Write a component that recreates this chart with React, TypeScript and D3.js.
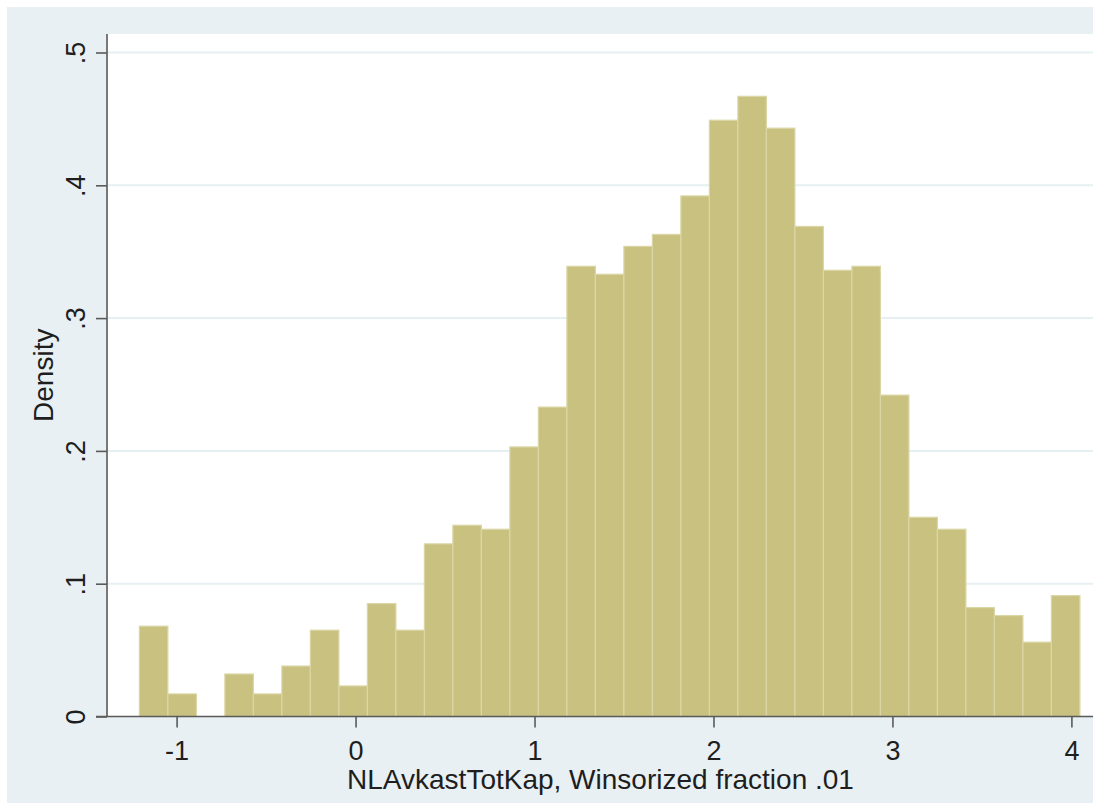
import React, { useEffect, useRef } from 'react';
import * as d3 from 'd3';

// histogram bins (start, width) and densities
const binStart = -1.208;
const binWidth = 0.15926;
const densities = [
  0.068, 0.017, 0, 0.032, 0.017, 0.038, 0.065, 0.023, 0.085, 0.065,
  0.130, 0.144, 0.141, 0.203, 0.233, 0.339, 0.333, 0.354, 0.363, 0.392,
  0.449, 0.467, 0.443, 0.369, 0.336, 0.339, 0.242, 0.150, 0.141, 0.082,
  0.076, 0.056, 0.091
];
const xTicks = [-1, 0, 1, 2, 3, 4];
const yTicks = [0, 0.1, 0.2, 0.3, 0.4, 0.5];
const xTitle = 'NLAvkastTotKap, Winsorized fraction .01';
const yTitle = 'Density';

export default function App() {
  const svgRef = useRef<SVGSVGElement | null>(null);

  useEffect(() => {
    const W = 1093;
    const H = 803;
    const plot = { left: 108, top: 34, right: 1093, bottom: 716.5 };
    const font = 'Liberation Sans, Arial, sans-serif';

    d3.select(svgRef.current).selectAll('*').remove();
    const svg = d3.select(svgRef.current).attr('width', W).attr('height', H);

    // outer graph region
    svg.append('rect')
      .attr('x', 7).attr('y', 7)
      .attr('width', W - 7).attr('height', H - 7)
      .attr('fill', '#e8f0f3');

    // plot region
    svg.append('rect')
      .attr('x', plot.left).attr('y', plot.top)
      .attr('width', plot.right - plot.left).attr('height', plot.bottom - plot.top)
      .attr('fill', '#ffffff');

    const xScale = d3.scaleLinear().domain([-1, 4]).range([176.6, 1071.4]);
    const yScale = d3.scaleLinear().domain([0, 0.5]).range([716.5, 52.5]);

    // grid lines
    svg.append('g')
      .selectAll('line')
      .data(yTicks.filter(d => d > 0))
      .enter()
      .append('line')
      .attr('x1', plot.left).attr('x2', plot.right)
      .attr('y1', d => yScale(d)).attr('y2', d => yScale(d))
      .attr('stroke', '#e6eff2')
      .attr('stroke-width', 2);

    // bars
    const bins = densities.map((d, i) => ({
      x0: binStart + i * binWidth,
      x1: binStart + (i + 1) * binWidth,
      d
    }));

    svg.append('g')
      .selectAll('rect')
      .data(bins.filter(b => b.d > 0))
      .enter()
      .append('rect')
      .attr('x', b => xScale(b.x0))
      .attr('y', b => yScale(b.d))
      .attr('width', b => xScale(b.x1) - xScale(b.x0))
      .attr('height', b => yScale(0) - yScale(b.d))
      .attr('fill', '#c9c17f')
      .attr('stroke', '#dbd6a6')
      .attr('stroke-width', 1.2);

    // Y axis
    const yAxis = svg.append('g')
      .attr('transform', `translate(${plot.left - 1},0)`)
      .call(d3.axisLeft(yScale)
        .tickValues(yTicks)
        .tickSize(11)
        .tickPadding(0)
        .tickFormat(d => (+d === 0 ? '0' : d3.format('.1f')(+d).replace(/^0/, ''))));
    yAxis.select('.domain')
      .attr('d', `M0,${plot.top}V${plot.bottom + 0.5}`)
      .attr('stroke', '#5a5a5a')
      .attr('stroke-width', 1.6);
    yAxis.selectAll('.tick line').attr('stroke', '#5a5a5a').attr('stroke-width', 1.6);
    yAxis.selectAll('.tick text')
      .attr('x', null).attr('dy', null)
      .attr('transform', 'translate(-22,0) rotate(-90)')
      .attr('text-anchor', 'middle')
      .attr('fill', '#1e1e1e')
      .attr('font-family', font)
      .attr('font-size', 27);

    // X axis
    const xAxis = svg.append('g')
      .attr('transform', `translate(0,${plot.bottom})`)
      .call(d3.axisBottom(xScale).tickValues(xTicks).tickSize(11).tickFormat(d => String(d)));
    xAxis.select('.domain')
      .attr('d', `M${plot.left - 12},0H${plot.right}`)
      .attr('stroke', '#5a5a5a')
      .attr('stroke-width', 1.6);
    xAxis.selectAll('.tick line').attr('stroke', '#5a5a5a').attr('stroke-width', 1.6);
    xAxis.selectAll('.tick text')
      .attr('y', 43.5).attr('dy', null)
      .attr('fill', '#1e1e1e')
      .attr('font-family', font)
      .attr('font-size', 27);

    // axis titles
    svg.append('text')
      .attr('x', (plot.left + plot.right) / 2)
      .attr('y', 789)
      .attr('text-anchor', 'middle')
      .attr('fill', '#1e1e1e')
      .attr('font-family', font)
      .attr('font-size', 28)
      .text(xTitle);

    svg.append('text')
      .attr('transform', `translate(53,${(plot.top + plot.bottom) / 2}) rotate(-90)`)
      .attr('text-anchor', 'middle')
      .attr('fill', '#1e1e1e')
      .attr('font-family', font)
      .attr('font-size', 28)
      .text(yTitle);
  }, []);

  return (
    <svg ref={svgRef} style={{ position: 'absolute', left: 0, top: 0, display: 'block' }}></svg>
  );
}
